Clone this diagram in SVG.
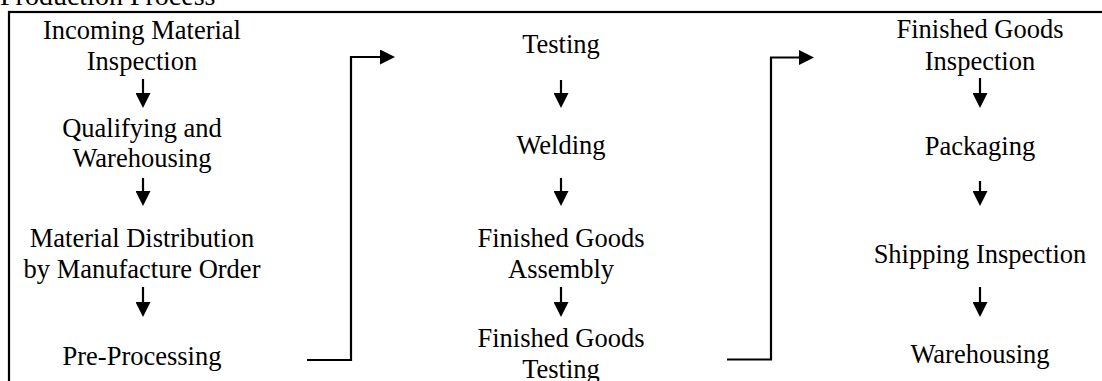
<svg xmlns="http://www.w3.org/2000/svg" width="1102" height="381" viewBox="0 0 1102 381">
<style>
text{font-family:"Liberation Serif","Times New Roman",serif;font-size:26.5px;fill:#000;text-anchor:middle}
.title{text-anchor:start;font-size:28px}
.ln{stroke:#000;stroke-width:2.2;fill:none}
</style>
<defs>
<marker id="ah" viewBox="0 0 15 15" refX="0" refY="7.5" markerWidth="15" markerHeight="15" markerUnits="userSpaceOnUse" orient="auto">
<path d="M0,0 L15,7.5 L0,15 Z" fill="#000"/>
</marker>
</defs>
<rect width="1102" height="381" fill="#fff"/>
<text class="title" x="0" y="5">Production Process</text>
<rect x="9" y="12" width="1110" height="400" class="ln"/>
<g id="n1"><text x="142" y="39">Incoming Material</text><text x="142" y="70">Inspection</text></g>
<g id="n2"><text x="142" y="137">Qualifying and</text><text x="142" y="167">Warehousing</text></g>
<g id="n3"><text x="142" y="247">Material Distribution</text><text x="142" y="278">by Manufacture Order</text></g>
<g id="n4"><text x="142" y="365">Pre-Processing</text></g>
<g id="n5"><text x="561" y="53">Testing</text></g>
<g id="n6"><text x="561" y="154">Welding</text></g>
<g id="n7"><text x="561" y="247">Finished Goods</text><text x="561" y="278">Assembly</text></g>
<g id="n8"><text x="561" y="347">Finished Goods</text><text x="561" y="378">Testing</text></g>
<g id="n9"><text x="980" y="38">Finished Goods</text><text x="980" y="70">Inspection</text></g>
<g id="n10"><text x="980" y="155">Packaging</text></g>
<g id="n11"><text x="980" y="263">Shipping Inspection</text></g>
<g id="n12"><text x="980" y="363">Warehousing</text></g>
<g id="connectors" class="ln" marker-end="url(#ah)">
<line x1="143" y1="79" x2="143" y2="93"/>
<line x1="143" y1="178" x2="143" y2="191"/>
<line x1="143" y1="287" x2="143" y2="302"/>
<line x1="561" y1="80" x2="561" y2="93"/>
<line x1="561" y1="178" x2="561" y2="191"/>
<line x1="561" y1="287" x2="561" y2="302"/>
<line x1="980" y1="78" x2="980" y2="93"/>
<line x1="980" y1="181" x2="980" y2="191"/>
<line x1="980" y1="287" x2="980" y2="302"/>
<path d="M307,360 H351 V57 H380"/>
<path d="M727,359.5 H771 V57.5 H799"/>
</g>
</svg>
